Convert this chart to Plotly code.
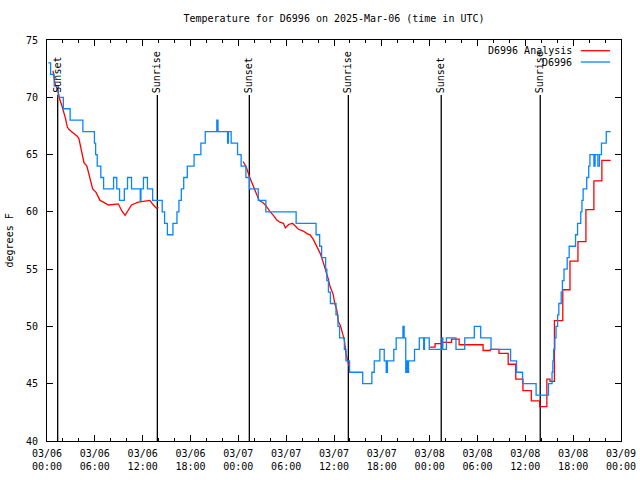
import plotly.graph_objects as go
import pandas as pd

START = pd.Timestamp("2025-03-06 00:00")
END = pd.Timestamp("2025-03-09 00:00")

# Observed temperature (D6996), hours since 03/06 00:00 UTC, value held until next point
obs_hours = [0.17, 0.45, 0.9, 1.4, 2.05, 2.9, 4.5, 5.95, 6.1, 6.3,
             6.75, 7.1, 8.35, 8.75, 9.1, 9.7, 10.1, 10.6, 11.7, 11.78,
             12.1, 12.6, 13.25, 14.45, 14.75, 15.1, 15.8, 16.3, 16.55, 16.85,
             17.15, 17.6, 18.45, 19.3, 19.85, 21.3, 21.45, 22.65, 22.75, 23.1,
             23.9, 24.35, 24.95, 25.4, 26.5, 27.45, 31.25, 33.75, 34.2, 34.45,
             34.95, 35.1, 35.3, 35.55, 36.25, 36.5, 36.7, 37.3, 37.5, 37.95,
             39.6, 40.75, 41.05, 41.75, 42.3, 42.55, 42.7, 43.5, 43.8, 44.65,
             44.8, 45.0, 45.15, 45.25, 45.35, 46.1, 46.7, 47.25, 47.35, 47.95,
             49.55, 49.65, 50.1, 51.3, 52.4, 53.6, 54.4, 55.7, 58.15, 58.9,
             59.65, 61.35, 62.9, 63.35, 63.45, 63.55, 63.7, 63.85, 64.05, 64.2,
             64.5, 64.65, 64.85, 65.25, 65.5, 66.3, 66.55, 66.95, 67.1, 67.25,
             67.7, 67.95, 68.1, 68.6, 68.75, 69.1, 69.3, 69.55, 70.15, 70.7]
obs_temp = [73, 72, 71, 70, 69, 68, 67, 66, 65, 64,
            63, 62, 63, 62, 61, 62, 63, 62, 61, 62,
            63, 62, 61, 60, 59, 58, 59, 60, 61, 62,
            63, 64, 65, 66, 67, 68, 67, 66, 67, 66,
            65, 64, 63, 62, 61, 60, 59, 58, 57, 56,
            55, 54, 53, 52, 51, 50, 49, 48, 47, 46,
            45, 46, 47, 48, 47, 46, 47, 48, 49, 50,
            49, 46, 47, 46, 47, 48, 49, 48, 49, 48,
            49, 48, 49, 48, 49, 50, 49, 48, 47, 46,
            45, 44, 45, 46, 47, 48, 49, 50, 51, 52,
            53, 54, 55, 56, 57, 58, 59, 60, 61, 62,
            63, 64, 65, 64, 65, 64, 65, 66, 67, 67]

# Analysis (smooth segments, None = gap)
ana_line_hours = [0.75, 1.0, 1.4, 1.6, 1.85, 2.0, 2.3, 2.55, 2.75, 3.1,
                  3.8, 4.0, 4.2, 4.4, 4.64, 5.0, 5.3, 5.5, 5.73, 6.15,
                  6.65, 7.07, 7.7, 8.95, 9.37, 9.79, 10.08, 10.6, 11.46, 12.3,
                  12.9, 13.34, 13.76, 13.97, None,
                  24.6, 25.0, 25.4, 25.9, 26.3, 26.6, 27.1, 27.5, 28.0, 28.4,
                  28.8, 29.2, 29.65, 29.9, 30.3, 30.8, 31.5, 32.2, 32.6, 33.0,
                  33.4, 33.85, 34.25, 34.6, 34.9, 35.3, 35.5, 35.7, 35.9, 36.1,
                  36.35, 36.55, 36.8, 37.1, 37.3, 37.5, 37.8, 37.9]
ana_line_temp = [72.3, 71.2, 70.5, 69.8, 69.3, 69.0, 68.2, 67.4, 67.2, 67.0,
                 66.6, 66.4, 65.8, 65.0, 64.3, 64.0, 63.1, 62.5, 62.0, 61.7,
                 61.0, 60.85, 60.6, 60.7, 60.1, 59.7, 60.0, 60.6, 60.85, 60.95,
                 61.0, 60.6, 60.3, 60.4, None,
                 64.4, 63.9, 63.07, 62.2, 61.5, 61.0, 60.8, 60.5, 60.0, 59.7,
                 59.3, 59.1, 59.0, 58.6, 58.9, 59.0, 58.5, 58.3, 58.1, 58.0,
                 57.6, 57.0, 56.4, 55.7, 55.1, 54.1, 53.5, 53.1, 52.8, 52.0,
                 51.45, 50.4, 50.1, 49.3, 48.8, 47.6, 46.6, 46.5]

# Analysis (hourly steps on 03/08)
ana_step_hours = [48.05, 48.68, 49.6, 50.75, 51.7, 54.7, 55.6, 56.7, 57.85, 58.8,
                  59.7, 60.75, 61.8, 62.7, 63.1, 63.65, 64.7, 65.6, 66.6, 67.6,
                  68.6, 69.6, 70.7]
ana_step_temp = [48.2, 48.5, 48.6, 48.9, 48.4, 47.9, 48.0, 47.65, 46.7, 45.4,
                 44.4, 43.5, 43.0, 45.4, 45.2, 50.5, 53.2, 55.7, 57.4, 60.2,
                 62.7, 64.5, 64.5]

sun_hours = [1.34, 13.84, 25.38, 37.8, 49.45, 61.87]
sun_labels = ["Sunset", "Sunrise", "Sunset", "Sunrise", "Sunset", "Sunrise"]
sun_line_top = 70.2

legend_names = ["D6996 Analysis", "D6996"]
colors = ["#ff0000", "#0a84ff"]


def to_time(hours):
    return [None if h is None else START + pd.Timedelta(hours=h) for h in hours]


FONT = "DejaVu Sans Mono"
LW = 1.3
fig = go.Figure()

# sunrise / sunset vertical lines
vx, vy = [], []
for h in sun_hours:
    vx += [h, h, None]
    vy += [40, sun_line_top, None]
fig.add_trace(go.Scatter(x=to_time(vx), y=vy, mode="lines",
                         line=dict(color="black", width=LW),
                         hoverinfo="skip", showlegend=False))

fig.add_trace(go.Scatter(x=to_time(ana_line_hours), y=ana_line_temp, mode="lines",
                         name=legend_names[0], line=dict(color=colors[0], width=LW),
                         connectgaps=False, showlegend=False))
fig.add_trace(go.Scatter(x=to_time(ana_step_hours), y=ana_step_temp, mode="lines",
                         name=legend_names[0], line=dict(color=colors[0], width=LW, shape="hv"),
                         showlegend=False))
fig.add_trace(go.Scatter(x=to_time(obs_hours), y=obs_temp, mode="lines",
                         name=legend_names[1], line=dict(color=colors[1], width=LW, shape="hv"),
                         showlegend=False))

annotations = []
for h, lab in zip(sun_hours, sun_labels):
    annotations.append(dict(x=START + pd.Timedelta(hours=h), y=sun_line_top,
                            xref="x", yref="y", text=lab, textangle=-90,
                            showarrow=False, xanchor="center", yanchor="bottom",
                            font=dict(family=FONT, size=10, color="black")))

# custom legend (text right-aligned, line sample on the right, as in gnuplot)
leg_y = [0.9733, 0.9451]
shapes = []
for name, col, yy in zip(legend_names, colors, leg_y):
    annotations.append(dict(x=0.918, y=yy, xref="paper", yref="paper", text=name,
                            showarrow=False, xanchor="right", yanchor="middle",
                            font=dict(family=FONT, size=10, color="black")))
    shapes.append(dict(type="line", xref="paper", yref="paper", x0=0.930, x1=0.981,
                       y0=yy, y1=yy, line=dict(color=col, width=LW)))

annotations.append(dict(x=-0.0645, y=0.5, xref="paper", yref="paper", text="degrees F",
                        textangle=-90, showarrow=False, xanchor="center", yanchor="middle",
                        font=dict(family=FONT, size=10, color="black")))

W, H = 640, 480
fig.update_layout(
    width=W, height=H,
    margin=dict(l=47, r=19, t=40, b=39, autoexpand=False),
    paper_bgcolor="white", plot_bgcolor="white",
    font=dict(family=FONT, size=10, color="black"),
    title=dict(text="Temperature for D6996 on 2025-Mar-06 (time in UTC)",
               x=334 / W, xanchor="center", y=1 - 18 / H, yanchor="middle",
               xref="container", yref="container",
               font=dict(family=FONT, size=10, color="black")),
    showlegend=False,
    annotations=annotations,
    shapes=shapes,
)
fig.update_xaxes(type="date", range=[START, END], tick0=START, dtick=6 * 3600 * 1000,
                 tickformat="%m/%d<br>%H:%M", ticks="inside", ticklen=6, tickcolor="black",
                 minor=dict(dtick=2 * 3600 * 1000, ticks="inside", ticklen=3, tickcolor="black"),
                 showline=True, linecolor="black", linewidth=1, mirror="ticks",
                 showgrid=False, zeroline=False, tickfont=dict(family=FONT, size=10),
                 ticklabelstandoff=3, automargin=False)
fig.update_yaxes(range=[40, 75], tick0=40, dtick=5, ticks="inside", ticklen=6, tickcolor="black",
                 showline=True, linecolor="black", linewidth=1, mirror="ticks",
                 showgrid=False, zeroline=False, tickfont=dict(family=FONT, size=10),
                 ticklabelstandoff=6, automargin=False)

# remove the default page margin so the 640x480 figure fills the window exactly
fig.write_html("out.html",
               config={"displayModeBar": False, "staticPlot": True},
               post_script="document.body.style.margin='0px';document.body.style.overflow='hidden';")
